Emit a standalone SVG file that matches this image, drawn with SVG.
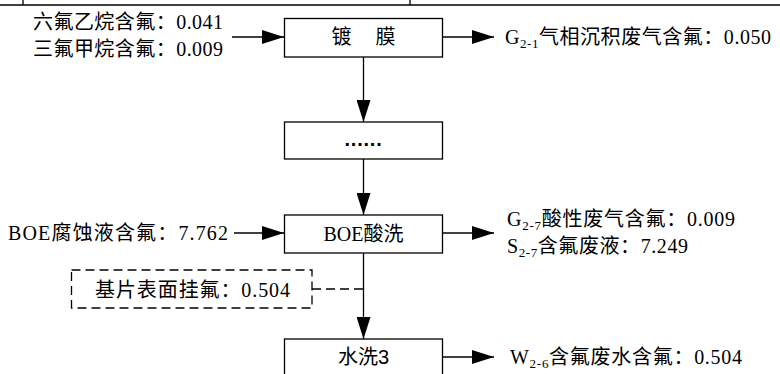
<svg xmlns="http://www.w3.org/2000/svg" width="780" height="374" viewBox="0 0 780 374">
<style>
  .box{fill:#fff;stroke:#000;stroke-width:1.3}
  .dbox{fill:none;stroke:#000;stroke-width:1.3;stroke-dasharray:9 5}
  .ln{fill:none;stroke:#000;stroke-width:1.3}
  .dl{fill:none;stroke:#000;stroke-width:1.3;stroke-dasharray:9 5}
  .lbl{font-family:"Liberation Serif","Noto Sans CJK SC",serif;font-size:20px;fill:#000}
  .btx{font-family:"Liberation Sans","Noto Sans CJK SC",sans-serif;font-size:20px;fill:#000;text-anchor:middle}
  .ser{font-family:"Liberation Serif","Noto Sans CJK SC",serif}
  .sub{font-size:13px}
</style>
<defs>
  <marker id="ah" markerUnits="userSpaceOnUse" markerWidth="22" markerHeight="14" refX="22" refY="7" orient="auto">
    <path d="M0,0 L22,7 L0,14 z" fill="#000"/>
  </marker>
</defs>
<g id="frame">
  <line class="ln" x1="0" y1="5" x2="780" y2="5"/>
  <line class="ln" x1="23" y1="0" x2="23" y2="5"/>
  <line class="ln" x1="410" y1="0" x2="410" y2="5"/>
</g>
<g id="connectors">
  <line class="ln" x1="232" y1="37" x2="284" y2="37" marker-end="url(#ah)"/>
  <line class="ln" x1="443" y1="37" x2="494" y2="37" marker-end="url(#ah)"/>
  <line class="ln" x1="363.5" y1="57" x2="363.5" y2="122" marker-end="url(#ah)"/>
  <line class="ln" x1="363.5" y1="159" x2="363.5" y2="215" marker-end="url(#ah)"/>
  <line class="ln" x1="234" y1="233" x2="284" y2="233" marker-end="url(#ah)"/>
  <line class="ln" x1="443" y1="233" x2="494" y2="233" marker-end="url(#ah)"/>
  <line class="ln" x1="363.5" y1="253" x2="363.5" y2="339" marker-end="url(#ah)"/>
  <line class="dl" x1="312" y1="289" x2="363" y2="289"/>
  <line class="ln" x1="443" y1="357" x2="494" y2="357" marker-end="url(#ah)"/>
</g>
<g id="n-input1">
  <text class="lbl" x="33" y="29" textLength="190" lengthAdjust="spacing">六氟乙烷含氟：0.041</text>
  <text class="lbl" x="33" y="56" textLength="190" lengthAdjust="spacing">三氟甲烷含氟：0.009</text>
</g>
<g id="n-coating">
  <rect class="box" x="284.5" y="18.5" width="158" height="38.5"/>
  <text class="btx" x="363.5" y="44">镀<tspan dx="24">膜</tspan></text>
</g>
<g id="n-out1">
  <text class="lbl" x="505" y="44" textLength="266" lengthAdjust="spacing">G<tspan class="sub" dy="4">2-1</tspan><tspan dy="-4">气相沉积废气含氟：0.050</tspan></text>
</g>
<g id="n-dots">
  <rect class="box" x="284.5" y="122" width="158" height="37"/>
  <text class="btx" x="363.5" y="146" style="font-weight:bold;letter-spacing:0.8px">......</text>
</g>
<g id="n-boe">
  <rect class="box" x="284.5" y="215" width="158" height="38"/>
  <text class="btx" x="363.5" y="241"><tspan class="ser">BOE</tspan>酸洗</text>
</g>
<g id="n-input2">
  <text class="lbl" x="8" y="240" textLength="220" lengthAdjust="spacing">BOE腐蚀液含氟：7.762</text>
</g>
<g id="n-out2">
  <text class="lbl" x="507" y="226" textLength="228" lengthAdjust="spacing">G<tspan class="sub" dy="4">2-7</tspan><tspan dy="-4">酸性废气含氟：0.009</tspan></text>
  <text class="lbl" x="507" y="253" textLength="181" lengthAdjust="spacing">S<tspan class="sub" dy="4">2-7</tspan><tspan dy="-4">含氟废液：7.249</tspan></text>
</g>
<g id="n-residue">
  <rect class="dbox" x="71.5" y="270" width="240.5" height="38"/>
  <text class="lbl" x="95" y="297" textLength="195" lengthAdjust="spacing">基片表面挂氟：0.504</text>
</g>
<g id="n-wash3">
  <rect class="box" x="284.5" y="339" width="158" height="45"/>
  <text class="btx" x="363.5" y="364">水洗3</text>
</g>
<g id="n-out3">
  <text class="lbl" x="510" y="364" textLength="232" lengthAdjust="spacing">W<tspan class="sub" dy="4">2-6</tspan><tspan dy="-4">含氟废水含氟：0.504</tspan></text>
</g>
</svg>
